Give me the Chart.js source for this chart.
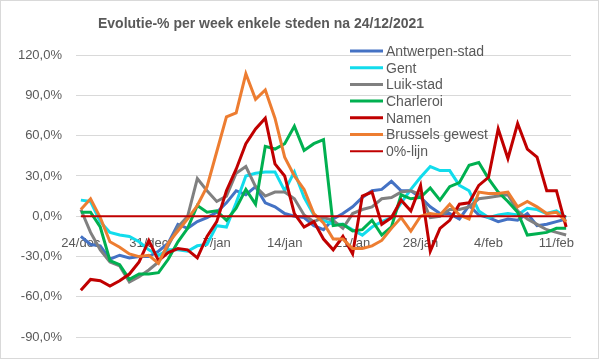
<!DOCTYPE html>
<html>
<head>
<meta charset="utf-8">
<script src="https://cdn.jsdelivr.net/npm/chart.js@4"></script>
<style>
  html, body { margin: 0; padding: 0; background: #fff; }
</style>
</head>
<body>
<canvas id="chart" width="599" height="359"></canvas>
<script>
const dates = [
  "24/dec", "25/dec", "26/dec", "27/dec", "28/dec", "29/dec", "30/dec", "31/dec",
  "1/jan", "2/jan", "3/jan", "4/jan", "5/jan", "6/jan", "7/jan", "8/jan", "9/jan",
  "10/jan", "11/jan", "12/jan", "13/jan", "14/jan", "15/jan", "16/jan", "17/jan",
  "18/jan", "19/jan", "20/jan", "21/jan", "22/jan", "23/jan", "24/jan", "25/jan",
  "26/jan", "27/jan", "28/jan", "29/jan", "30/jan", "31/jan", "1/feb", "2/feb",
  "3/feb", "4/feb", "5/feb", "6/feb", "7/feb", "8/feb", "9/feb", "10/feb", "11/feb", "12/feb"
];

const antwerpen = [-15, -21, -22, -32, -29, -31, -30, -30, -26, -20, -6, -9, -4, -1, 3, 10, 19, 16, 22, 10, 7, 2, 0, -1, -7, -10, -2, 2, 7, 14, 19, 20, 26, 19, 19, 14, 7, 2, 2, -2, 8, 1, -1, -4, -2, -3, 2, -7, -6, -4, -2];
const gent = [12, 11, -4, -12, -14, -15, -19, -25, -29, -25, -25, -26, -22, -21, -7, -8, 10, 30, 32, 33, 33, 19, 33, 14, 1, -3, -6, -6, -10, -14, -8, -4, -1, 10, 20, 29, 37, 34, 34, 23, 19, 4, -1, 1, 2, 1, 6, 5, 2, 4, -1];
const luik = [5, -12, -25, -34, -37, -49, -45, -40, -34, -22, -8, 0, 28, 19, 11, 15, 32, 37, 22, 15, 18, 18, 13, 1, -4, -1, -3, -9, 2, 5, 7, 13, 14, 18, 19, 16, -1, 0, 5, 5, 7, 13, 14, 15, 16, 4, -2, -6, -10, -12, -14];
const charleroi = [3, 3, -8, -33, -36, -47, -43, -43, -42, -32, -19, -9, 8, 3, 4, -3, 6, 20, 9, 52, 50, 54, 67, 49, 54, 57, -7, -6, -11, -10, -3, -14, -8, 16, 13, 14, 21, 12, 22, 25, 38, 40, 28, 18, 11, 3, -14, -13, -12, -9, -9];
const namen = [-55, -47, -48, -52, -48, -43, -34, -18, -33, -27, -24, -25, -31, -15, -4, 19, 35, 54, 65, 73, 39, 30, 2, -8, -4, -17, -25, -15, -28, 15, 18, -6, -1, 12, 4, 23, -26, -9, -3, 9, 10, 23, 29, 65, 43, 69, 50, 44, 19, 19, -8];
const brussels = [5, 13, -1, -19, -23, -28, -30, -29, -35, -20, -11, -2, 8, 22, 48, 74, 77, 106, 87, 94, 73, 44, 30, 20, 2, -5, -17, -17, -24, -24, -22, -18, -9, -1, -11, 0, 2, 1, 9, 1, -2, 18, 17, 17, 18, 7, 11, 7, 2, 3, -4];
const nulLijn = [0, 0, 0, 0, 0, 0, 0, 0, 0, 0, 0, 0, 0, 0, 0, 0, 0, 0, 0, 0, 0, 0, 0, 0, 0, 0, 0, 0, 0, 0, 0, 0, 0, 0, 0, 0, 0, 0, 0, 0, 0, 0, 0, 0, 0, 0, 0, 0, 0, 0, 0];

const chartTitle = "Evolutie-% per week enkele steden na 24/12/2021";
const textColor = "#595959";
const fontFamily = "'Liberation Sans', Arial, sans-serif";

function series(label, data, color, width, order) {
  return {
    label: label,
    data: data,
    borderColor: color,
    backgroundColor: color,
    borderWidth: width,
    pointRadius: 0,
    tension: 0,
    order: order,
  };
}

// title, legend and frame drawn by hand so they sit where Excel put them
const decorPlugin = {
  id: "decor",
  beforeDraw(chart) {
    const ctx = chart.ctx;
    ctx.save();
    ctx.fillStyle = "#fff";
    ctx.fillRect(0, 0, chart.width, chart.height);
    ctx.restore();
  },
  afterDraw(chart) {
    const ctx = chart.ctx;
    ctx.save();
    ctx.strokeStyle = "#d9d9d9";
    ctx.lineWidth = 1;
    ctx.strokeRect(0.5, 0.5, chart.width - 1, chart.height - 1);

    ctx.fillStyle = textColor;
    ctx.font = "bold 14px " + fontFamily;
    ctx.textAlign = "center";
    ctx.textBaseline = "middle";
    ctx.fillText(chartTitle, 261, 24);

    ctx.font = "14px " + fontFamily;
    ctx.textAlign = "left";
    chart.data.datasets.forEach((ds, i) => {
      const y = 51 + i * 16.7;
      ctx.strokeStyle = ds.borderColor;
      ctx.lineWidth = ds.borderWidth;
      ctx.beginPath();
      ctx.moveTo(350, y);
      ctx.lineTo(383, y);
      ctx.stroke();
      ctx.fillStyle = textColor;
      ctx.fillText(ds.label, 386, y + 1);
    });
    ctx.restore();
  },
};

const ctx = document.getElementById("chart").getContext("2d");
new Chart(ctx, {
  type: "line",
  data: {
    labels: dates,
    datasets: [
      series("Antwerpen-stad", antwerpen, "#4472c4", 3, 6),
      series("Gent", gent, "#12dcec", 3, 5),
      series("Luik-stad", luik, "#808080", 3, 4),
      series("Charleroi", charleroi, "#00b050", 3, 3),
      series("Namen", namen, "#c00000", 3, 2),
      series("Brussels gewest", brussels, "#ed7d31", 3, 1),
      series("0%-lijn", nulLijn, "#c00000", 2, 0),
    ],
  },
  options: {
    responsive: false,
    animation: false,
    layout: { padding: { top: 55, right: 28, bottom: 20, left: 18 } },
    plugins: {
      legend: { display: false },
      title: { display: false },
      tooltip: { enabled: false },
    },
    scales: {
      x: {
        type: "category",
        position: { y: 0 },
        offset: true,
        grid: { display: false },
        border: { display: false },
        ticks: {
          autoSkip: false,
          maxRotation: 0,
          padding: 11,
          color: textColor,
          font: { size: 13, family: fontFamily },
          callback: function (value, index) {
            return index % 7 === 0 ? dates[index] : null;
          },
        },
      },
      y: {
        min: -90,
        max: 120,
        afterFit: function (scale) {
          scale.width = 58;
        },
        grid: { color: "#d9d9d9", lineWidth: 1, drawTicks: false },
        border: { display: false },
        ticks: {
          stepSize: 30,
          padding: 14,
          color: textColor,
          font: { size: 13, family: fontFamily },
          callback: function (value) {
            return value.toFixed(1).replace(".", ",") + "%";
          },
        },
      },
    },
  },
  plugins: [decorPlugin],
});
</script>
</body>
</html>
